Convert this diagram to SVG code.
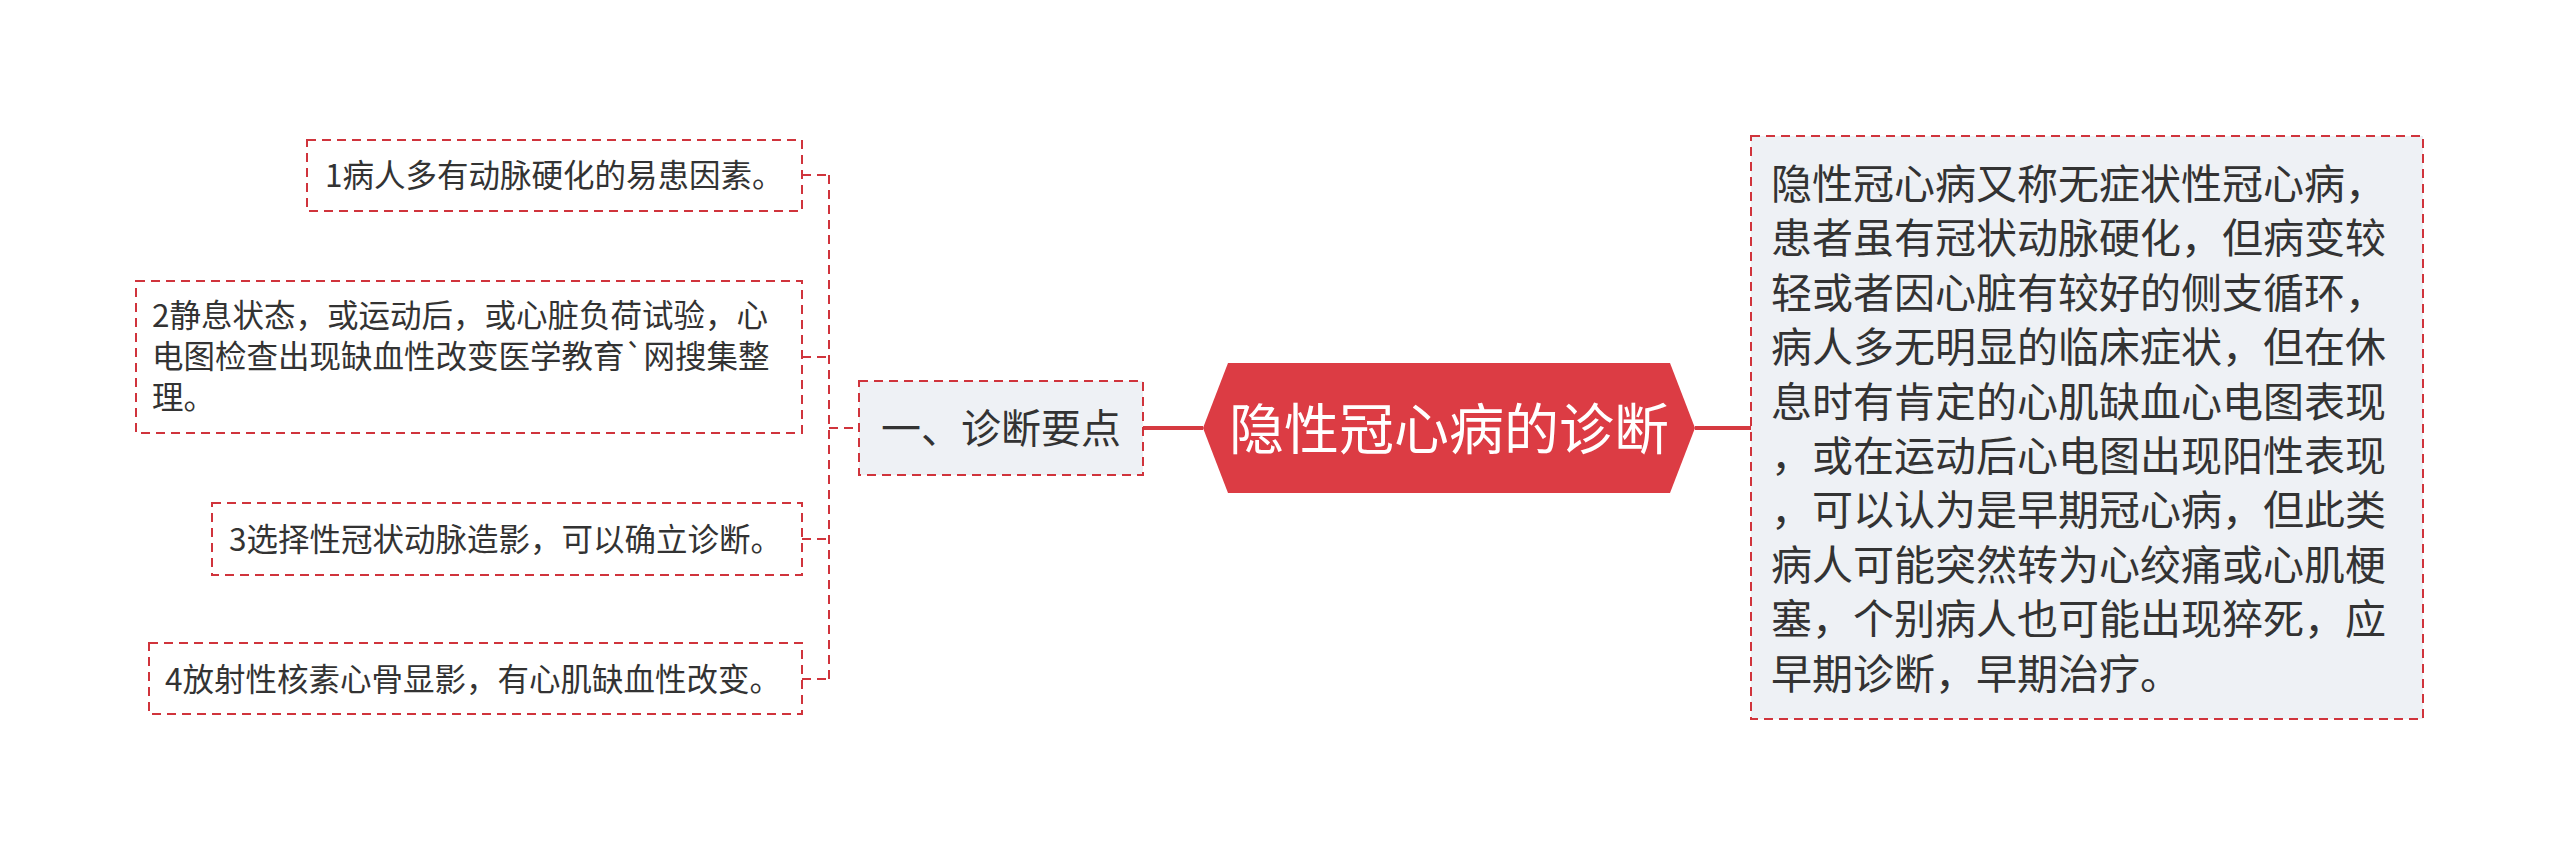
<svg xmlns="http://www.w3.org/2000/svg" width="2560" height="855" viewBox="0 0 2560 855">
<style>
text{font-family:"Noto Sans CJK SC","Noto Sans",sans-serif;fill:#333333;}
.box{fill:#ffffff;stroke:#d0343c;stroke-width:2;stroke-dasharray:9 6;}
.gbox{fill:#eef1f5;stroke:#d0343c;stroke-width:2;stroke-dasharray:9 6;}
.dline{fill:none;stroke:#d0343c;stroke-width:2;stroke-dasharray:9 6;}
.sline{fill:none;stroke:#d63a41;stroke-width:4;}
.t30{font-size:31.5px;}
.t40{font-size:41px;}
</style>
<rect width="2560" height="855" fill="#ffffff"/>
<g id="connectors">
<path class="dline" d="M802 175H829M802 357H829M802 539H829M802 679H829M829 175V679M829 428H859"/>
<path class="sline" d="M1143 428H1203M1695 428H1751"/>
</g>
<g id="root">
<polygon points="1203,428 1228,363 1670,363 1695,428 1670,493 1228,493" fill="#dc3c44"/>
<text x="1449" y="449" text-anchor="middle" style="font-size:55px;fill:#ffffff">隐性冠心病的诊断</text>
</g>
<g id="n-main">
<rect class="gbox" x="859" y="381" width="284" height="94"/>
<text x="1001" y="443" text-anchor="middle" style="font-size:40px">一、诊断要点</text>
</g>
<g id="n1">
<rect class="box" x="307" y="140" width="495" height="71"/>
<text class="t30" x="325" y="187">1病人多有动脉硬化的易患因素。</text>
</g>
<g id="n2">
<rect class="box" x="136" y="281" width="666" height="152"/>
<text class="t30" x="152" y="327">2静息状态，或运动后，或心脏负荷试验，心</text>
<text class="t30" x="152" y="368">电图检查出现缺血性改变医学教育`网搜集整</text>
<text class="t30" x="152" y="409">理。</text>
</g>
<g id="n3">
<rect class="box" x="212" y="503" width="590" height="72"/>
<text class="t30" x="229" y="551">3选择性冠状动脉造影，可以确立诊断。</text>
</g>
<g id="n4">
<rect class="box" x="149" y="643" width="653" height="71"/>
<text class="t30" x="165" y="691">4放射性核素心骨显影，有心肌缺血性改变。</text>
</g>
<g id="n-desc">
<rect class="gbox" x="1751" y="136" width="672" height="583"/>
<text class="t40" x="1771" y="199">隐性冠心病又称无症状性冠心病，</text>
<text class="t40" x="1771" y="253.4">患者虽有冠状动脉硬化，但病变较</text>
<text class="t40" x="1771" y="307.8">轻或者因心脏有较好的侧支循环，</text>
<text class="t40" x="1771" y="362.2">病人多无明显的临床症状，但在休</text>
<text class="t40" x="1771" y="416.6">息时有肯定的心肌缺血心电图表现</text>
<text class="t40" x="1771" y="471">，或在运动后心电图出现阳性表现</text>
<text class="t40" x="1771" y="525.4">，可以认为是早期冠心病，但此类</text>
<text class="t40" x="1771" y="579.8">病人可能突然转为心绞痛或心肌梗</text>
<text class="t40" x="1771" y="634.2">塞，个别病人也可能出现猝死，应</text>
<text class="t40" x="1771" y="688.6">早期诊断，早期治疗。</text>
</g>
</svg>
